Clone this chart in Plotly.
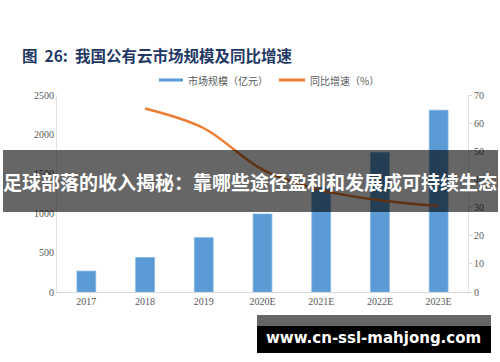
import plotly.graph_objects as go

categories = ["2017", "2018", "2019", "2020E", "2021E", "2022E", "2023E"]
market_size = [264.8, 437.4, 689.3, 990, 1330, 1770, 2307]
growth_x = ["2018", "2019", "2020E", "2021E", "2022E", "2023E"]
growth_pct = [65.2, 58.2, 43.5, 36.2, 32.6, 30.6]

W, H = 500, 362
L, R, T, B = 57, 468, 95, 292

def px(x):
    return (x - L) / (R - L)

def py(y):
    return (B - y) / (B - T)

fig = go.Figure()
fig.add_trace(go.Bar(x=categories, y=market_size, name="市场规模（亿元）",
                     marker=dict(color="#5B9BD5", line=dict(color="#7FB2E2", width=0.8)),
                     width=0.32, showlegend=False))
fig.add_trace(go.Scatter(x=growth_x, y=growth_pct, name="同比增速（%）", yaxis="y2",
                         mode="lines", line=dict(color="#ED7D31", width=2.4, shape="spline", smoothing=1.0),
                         showlegend=False))

tickfont = dict(family="Liberation Serif", size=10, color="#595959")
fig.update_layout(
    width=W, height=H,
    margin=dict(l=L, r=W - R, t=T, b=H - B),
    paper_bgcolor="white", plot_bgcolor="white",
    xaxis=dict(type="category", showline=True, linecolor="#D9D9D9", linewidth=1,
               showgrid=False, ticks="", tickfont=tickfont, range=[-0.5, 6.5]),
    yaxis=dict(range=[0, 2500], dtick=500, showgrid=False, showline=True,
               linecolor="#E3E3E3", linewidth=1, ticks="", tickfont=tickfont, zeroline=False),
    yaxis2=dict(range=[0, 70], dtick=10, overlaying="y", side="right", showgrid=False,
                showline=True, linecolor="#E3E3E3", linewidth=1, ticks="outside", ticklen=3,
                tickcolor="#D9D9D9", tickfont=tickfont, zeroline=False),
    showlegend=False,
)

shapes = []
annotations = []

# title
annotations.append(dict(xref="paper", yref="paper", x=px(20), y=py(55), xanchor="left", yanchor="middle",
                        text="<b>图  26:  我国公有云市场规模及同比增速</b>", showarrow=False,
                        font=dict(family="Noto Sans CJK SC", size=15.5, color="#1F3864")))

# legend
legfont = dict(family="Noto Sans CJK SC", size=10, color="#595959")
shapes.append(dict(type="line", xref="paper", yref="paper", x0=px(159), x1=px(183), y0=py(80), y1=py(80),
                   line=dict(color="#5B9BD5", width=3)))
annotations.append(dict(xref="paper", yref="paper", x=px(186), y=py(80), xanchor="left", yanchor="middle",
                        text="市场规模（亿元）", showarrow=False, font=legfont))
shapes.append(dict(type="line", xref="paper", yref="paper", x0=px(279), x1=px(305), y0=py(80), y1=py(80),
                   line=dict(color="#ED7D31", width=3)))
annotations.append(dict(xref="paper", yref="paper", x=px(308), y=py(80), xanchor="left", yanchor="middle",
                        text="同比增速（%）", showarrow=False, font=legfont))

# banner overlay
shapes.append(dict(type="rect", xref="paper", yref="paper", x0=px(3), x1=px(498), y0=py(212), y1=py(150),
                   fillcolor="rgba(0,0,0,0.6)", line=dict(width=0), layer="above"))
annotations.append(dict(xref="paper", yref="paper", x=px(250), y=py(181), xanchor="center", yanchor="middle",
                        text="<b>足球部落的收入揭秘：靠哪些途径盈利和发展成可持续生态</b>", showarrow=False,
                        font=dict(family="Noto Sans CJK SC", size=19, color="white")))

# watermark
shapes.append(dict(type="rect", xref="paper", yref="paper", x0=px(257), x1=px(491), y0=py(326), y1=py(315),
                   fillcolor="#666666", line=dict(width=0), layer="above"))
shapes.append(dict(type="rect", xref="paper", yref="paper", x0=px(257), x1=px(491), y0=py(353), y1=py(326),
                   fillcolor="#000000", line=dict(width=0), layer="above"))
annotations.append(dict(xref="paper", yref="paper", x=px(373), y=py(338), xanchor="center", yanchor="middle",
                        text="<b>www.cn-ssl-mahjong.com</b>", showarrow=False,
                        font=dict(family="DejaVu Sans", size=15, color="white")))

fig.update_layout(shapes=shapes, annotations=annotations)
fig.write_html("out.html", config={"displayModeBar": False},
               post_script="document.body.style.margin='0';")
